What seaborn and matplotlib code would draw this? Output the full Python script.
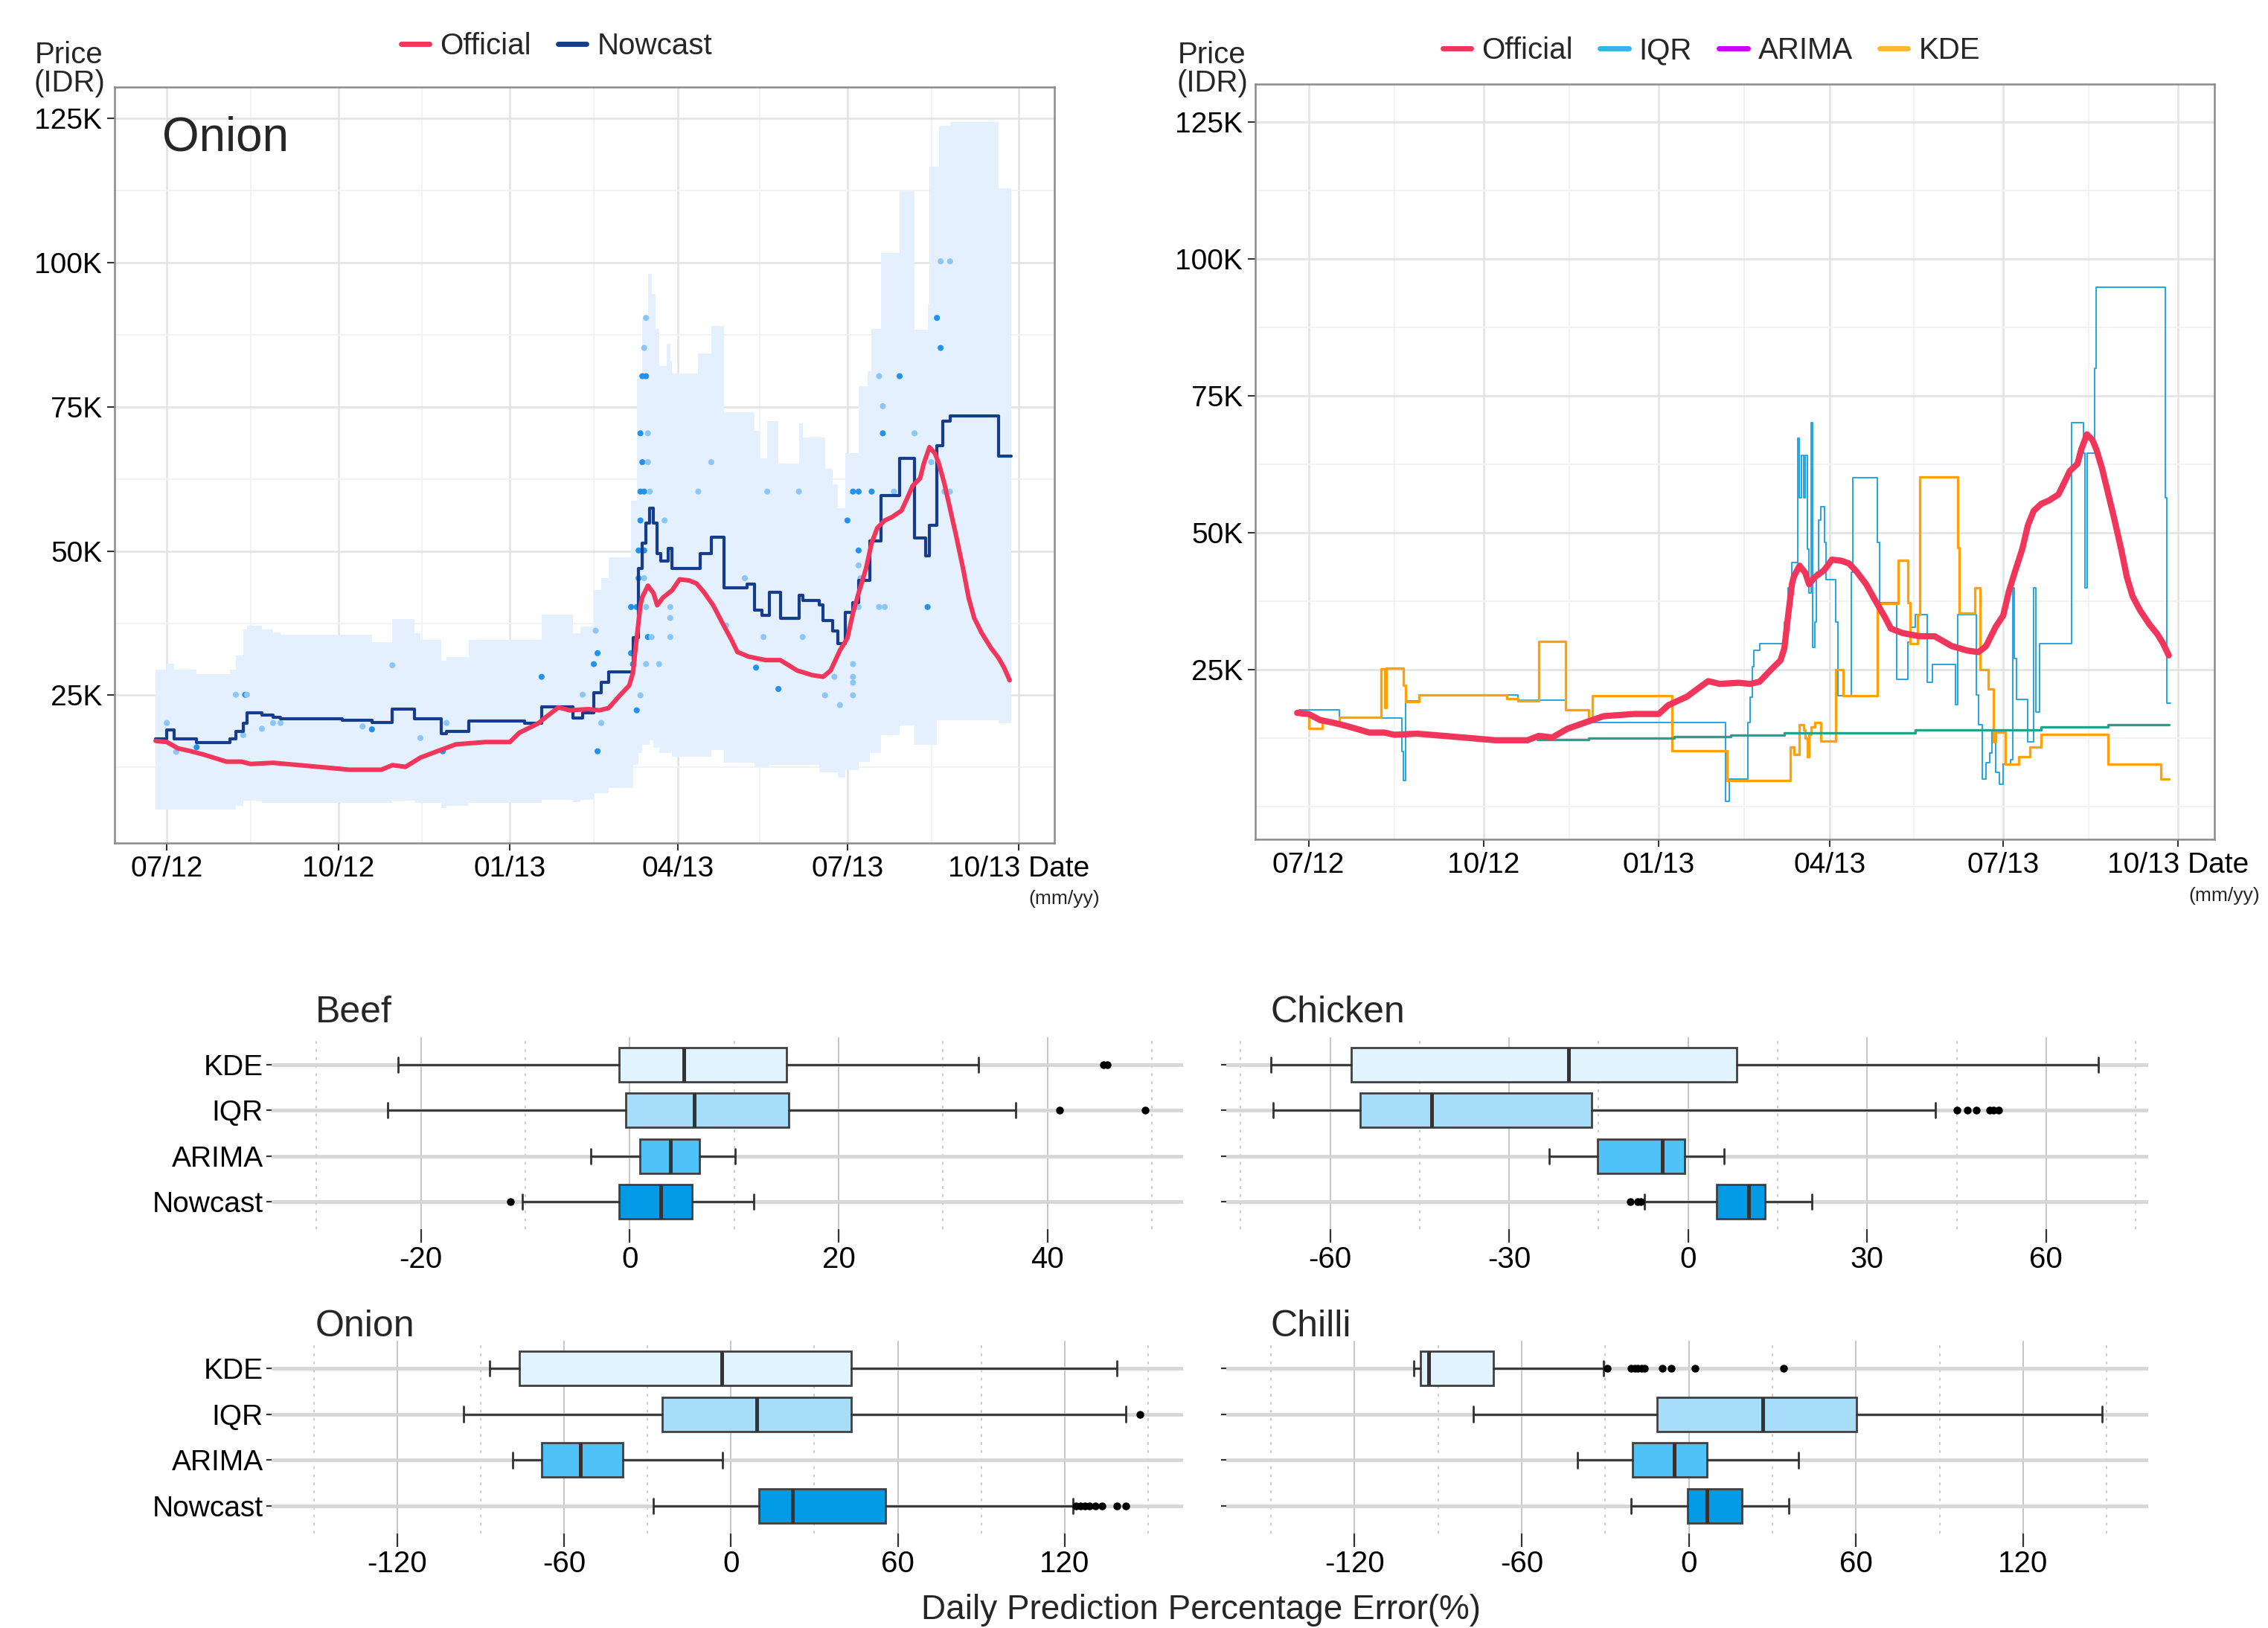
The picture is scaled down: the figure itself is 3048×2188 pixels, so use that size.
import numpy as np
import pandas as pd
import matplotlib
matplotlib.use("Agg")
import matplotlib.pyplot as plt
import matplotlib.dates as mdates
from matplotlib.lines import Line2D
from matplotlib.ticker import FuncFormatter
import seaborn as sns

# ---------------- data: onion prices (thousand IDR) ----------------
off_dates = ['2012-06-25', '2012-07-01', '2012-07-07', '2012-07-14', '2012-07-21', '2012-07-28',
             '2012-08-02', '2012-08-10', '2012-08-15', '2012-08-27', '2012-09-10', '2012-09-27',
             '2012-10-07', '2012-10-24', '2012-10-30', '2012-11-06', '2012-11-14', '2012-11-23',
             '2012-12-03', '2012-12-19', '2013-01-01', '2013-01-06', '2013-01-16', '2013-01-21',
             '2013-01-27', '2013-02-02', '2013-02-12', '2013-02-18', '2013-02-23', '2013-03-01',
             '2013-03-06', '2013-03-08', '2013-03-10', '2013-03-12', '2013-03-13', '2013-03-16',
             '2013-03-19', '2013-03-21', '2013-03-24', '2013-03-29', '2013-04-02', '2013-04-07',
             '2013-04-11', '2013-04-15', '2013-04-20', '2013-04-25', '2013-04-30', '2013-05-03',
             '2013-05-09', '2013-05-18', '2013-05-26', '2013-06-04', '2013-06-12', '2013-06-18',
             '2013-06-22', '2013-06-27', '2013-07-01', '2013-07-04', '2013-07-07', '2013-07-11',
             '2013-07-14', '2013-07-17', '2013-07-21', '2013-07-25', '2013-07-30', '2013-08-02',
             '2013-08-05', '2013-08-09', '2013-08-11', '2013-08-14', '2013-08-17', '2013-08-19',
             '2013-08-22', '2013-08-25', '2013-08-28', '2013-09-01', '2013-09-04', '2013-09-07',
             '2013-09-11', '2013-09-16', '2013-09-20', '2013-09-23', '2013-09-26']
off_vals = [17.1, 16.9, 15.8, 15.3, 14.7, 14.0, 13.5, 13.5, 13.1, 13.3, 12.9, 12.4,
            12.1, 12.1, 12.9, 12.6, 14.2, 15.3, 16.5, 16.9, 16.9, 18.5, 20.1, 21.4,
            22.9, 22.4, 22.6, 22.4, 22.8, 25.0, 26.7, 28.9, 34.9, 40.6, 42.0, 44.0,
            42.7, 40.6, 41.9, 43.2, 45.1, 44.9, 44.4, 42.9, 40.6, 37.5, 34.5, 32.5,
            31.7, 31.1, 31.1, 29.3, 28.5, 28.2, 29.3, 32.8, 34.9, 39.3, 42.7, 47.0,
            51.4, 54.0, 55.3, 55.9, 57.0, 59.1, 61.3, 62.6, 65.2, 68.0, 66.9, 65.2,
            61.7, 57.4, 53.1, 47.0, 41.9, 38.4, 35.8, 33.2, 31.5, 29.8, 27.6]

now_dates = ['2012-06-25', '2012-07-01', '2012-07-05', '2012-07-17', '2012-08-04', '2012-08-07',
             '2012-08-11', '2012-08-13', '2012-08-21', '2012-08-27', '2012-08-31', '2012-10-03',
             '2012-10-19', '2012-10-30', '2012-11-11', '2012-11-25', '2012-11-28', '2012-12-10',
             '2013-01-09', '2013-01-18', '2013-02-04', '2013-02-09', '2013-02-15', '2013-02-19',
             '2013-02-23', '2013-03-08', '2013-03-11', '2013-03-13', '2013-03-15', '2013-03-17',
             '2013-03-19', '2013-03-21', '2013-03-23', '2013-03-27', '2013-03-29', '2013-04-13',
             '2013-04-19', '2013-04-26', '2013-05-08', '2013-05-12', '2013-05-16', '2013-05-20',
             '2013-05-26', '2013-06-05', '2013-06-07', '2013-06-16', '2013-06-18', '2013-06-23',
             '2013-06-26', '2013-06-30', '2013-07-04', '2013-07-07', '2013-07-13', '2013-07-19',
             '2013-07-29', '2013-08-06', '2013-08-12', '2013-08-14', '2013-08-18', '2013-08-21',
             '2013-08-25', '2013-09-20', '2013-09-27']
now_vals = [17.4, 19.0, 17.4, 16.8, 17.4, 18.7, 20.1, 21.9, 21.6, 21.2, 20.9, 20.7,
            20.3, 22.6, 20.9, 18.3, 18.7, 20.5, 20.2, 23.0, 21.0, 21.9, 25.4, 27.2,
            29.1, 35.0, 47.0, 51.4, 54.8, 57.4, 54.8, 49.6, 48.3, 50.5, 47.0, 49.6,
            52.4, 43.6, 44.3, 39.7, 38.8, 42.9, 38.4, 42.3, 41.4, 40.6, 38.0, 36.2,
            34.0, 39.4, 41.0, 44.9, 51.8, 59.6, 66.1, 52.2, 49.2, 54.4, 68.2, 72.5,
            73.4, 66.5, 66.5]

band_dates = ['2012-06-25', '2012-07-01', '2012-07-05', '2012-07-17', '2012-08-04', '2012-08-07',
              '2012-08-11', '2012-08-13', '2012-08-21', '2012-08-27', '2012-08-31', '2012-10-19',
              '2012-10-30', '2012-11-11', '2012-11-14', '2012-11-25', '2012-11-28', '2012-12-10',
              '2013-01-18', '2013-02-04', '2013-02-08', '2013-02-15', '2013-02-19', '2013-02-23',
              '2013-03-07', '2013-03-08', '2013-03-10', '2013-03-11', '2013-03-13', '2013-03-16',
              '2013-03-17', '2013-03-18', '2013-03-19', '2013-03-20', '2013-03-22', '2013-03-26',
              '2013-03-28', '2013-03-29', '2013-04-12', '2013-04-19', '2013-04-26', '2013-05-12',
              '2013-05-15', '2013-05-19', '2013-05-20', '2013-05-25', '2013-06-05', '2013-06-07',
              '2013-06-16', '2013-06-19', '2013-06-23', '2013-06-26', '2013-06-30', '2013-07-07',
              '2013-07-12', '2013-07-13', '2013-07-14', '2013-07-19', '2013-07-29', '2013-08-06',
              '2013-08-13', '2013-08-14', '2013-08-18', '2013-08-19', '2013-08-25', '2013-09-20',
              '2013-09-27']
band_lo = [5.2, 5.2, 5.2, 5.2, 5.2, 5.8, 6.7, 6.7, 6.3, 6.3, 6.3, 6.3,
           6.7, 6.3, 6.3, 5.4, 5.8, 6.3, 6.9, 6.5, 6.9, 8.1, 8.1, 9.0,
           9.0, 12.9, 12.9, 15.0, 16.4, 16.4, 17.2, 17.2, 15.9, 15.9, 15.0, 15.0,
           15.0, 14.4, 14.4, 15.5, 13.3, 12.5, 12.5, 12.5, 12.9, 12.9, 12.9, 12.9,
           11.6, 11.6, 11.6, 10.7, 12.0, 13.5, 13.5, 15.0, 15.0, 18.1, 19.8, 16.4,
           16.4, 16.4, 20.7, 20.7, 20.7, 20.1, 20.1]
band_hi = [29.4, 30.5, 29.4, 28.7, 29.4, 31.9, 36.4, 37.1, 36.4, 35.9, 35.5, 34.2,
           38.2, 35.7, 34.6, 31.0, 31.6, 34.6, 39.0, 35.7, 36.9, 43.2, 45.3, 48.9,
           58.7, 58.7, 79.9, 79.9, 90.3, 98.0, 98.0, 94.6, 94.6, 88.5, 82.0, 85.9,
           83.0, 80.7, 84.2, 89.0, 74.0, 70.8, 66.1, 72.5, 72.5, 65.2, 72.1, 69.7,
           69.7, 64.3, 61.6, 57.4, 66.9, 78.6, 81.2, 81.2, 88.5, 101.7, 112.3, 88.4,
           92.8, 116.6, 116.6, 123.7, 124.4, 112.9, 112.9]

pt_dates = ['2012-07-01', '2012-07-06', '2012-07-17', '2012-08-07', '2012-08-12', '2012-08-13',
            '2012-08-11', '2012-08-21', '2012-08-27', '2012-08-31', '2012-10-14', '2012-10-19',
            '2012-10-30', '2012-11-14', '2012-11-26', '2012-11-28', '2013-01-18', '2013-02-09',
            '2013-02-16', '2013-02-15', '2013-02-17', '2013-02-17', '2013-02-19', '2013-03-07',
            '2013-03-08', '2013-03-07', '2013-03-10', '2013-03-12', '2013-03-10', '2013-03-11',
            '2013-03-11', '2013-03-12', '2013-03-12', '2013-03-13', '2013-03-12', '2013-03-14',
            '2013-03-14', '2013-03-15', '2013-03-13', '2013-03-15', '2013-03-14', '2013-03-15',
            '2013-03-16', '2013-03-16', '2013-03-17', '2013-03-16', '2013-03-18', '2013-03-15',
            '2013-03-14', '2013-03-22', '2013-03-25', '2013-03-28', '2013-03-28', '2013-03-28',
            '2013-04-12', '2013-04-19', '2013-04-27', '2013-05-07', '2013-05-13', '2013-05-17',
            '2013-05-19', '2013-05-25', '2013-06-05', '2013-06-07', '2013-06-19', '2013-06-24',
            '2013-06-27', '2013-07-01', '2013-07-04', '2013-07-04', '2013-07-04', '2013-07-04',
            '2013-07-04', '2013-07-07', '2013-07-07', '2013-07-05', '2013-07-07', '2013-07-07',
            '2013-07-08', '2013-07-14', '2013-07-18', '2013-07-20', '2013-07-20', '2013-07-18',
            '2013-07-21', '2013-07-26', '2013-07-29', '2013-08-06', '2013-08-13', '2013-08-15',
            '2013-08-18', '2013-08-20', '2013-08-20', '2013-08-25', '2013-08-22', '2013-08-25']
pt_vals = [20.2, 15.2, 16.0, 25.1, 25.1, 25.1, 18.1, 19.2, 20.2, 20.2, 19.6, 19.1,
           30.2, 17.6, 15.3, 20.2, 28.2, 25.1, 36.2, 30.4, 32.3, 15.3, 20.2, 32.3,
           30.4, 40.3, 22.4, 25.0, 40.3, 45.3, 50.1, 55.3, 60.3, 65.4, 70.4, 60.3,
           50.1, 40.3, 80.3, 80.3, 85.2, 90.4, 70.4, 65.4, 60.3, 35.1, 35.1, 30.4,
           45.3, 30.4, 55.3, 40.3, 38.4, 35.1, 60.3, 65.4, 37.1, 45.3, 29.8, 35.1,
           60.3, 26.1, 60.3, 35.1, 25.0, 28.2, 23.3, 55.3, 30.4, 28.2, 27.2, 25.0,
           60.3, 60.3, 50.1, 40.3, 40.3, 47.5, 45.3, 60.3, 80.3, 75.1, 70.4, 40.3,
           40.3, 60.3, 80.3, 70.4, 40.3, 65.4, 90.4, 85.2, 100.2, 100.2, 60.3, 60.3]
pt_tone = ['light', 'light', 'dark', 'light', 'dark', 'light', 'light', 'light', 'light', 'light', 'light', 'dark',
           'light', 'light', 'dark', 'light', 'dark', 'light', 'light', 'dark', 'dark', 'dark', 'light', 'dark',
           'dark', 'dark', 'dark', 'light', 'dark', 'dark', 'dark', 'dark', 'dark', 'dark', 'dark', 'dark',
           'dark', 'light', 'dark', 'dark', 'light', 'light', 'light', 'light', 'light', 'dark', 'light', 'light',
           'light', 'light', 'light', 'light', 'light', 'light', 'light', 'light', 'light', 'light', 'dark', 'light',
           'light', 'dark', 'light', 'light', 'light', 'light', 'light', 'dark', 'light', 'light', 'light', 'light',
           'dark', 'dark', 'dark', 'dark', 'light', 'light', 'light', 'dark', 'light', 'light', 'dark', 'light',
           'light', 'light', 'dark', 'light', 'dark', 'light', 'dark', 'dark', 'light', 'light', 'light', 'light']

iqr_dates = ['2012-06-26', '2012-07-17', '2012-08-19', '2012-08-20', '2012-08-21', '2012-08-28',
             '2012-10-19', '2012-11-13', '2012-11-25', '2013-02-05', '2013-02-07', '2013-02-17',
             '2013-02-18', '2013-02-19', '2013-02-20', '2013-02-23', '2013-03-08', '2013-03-10',
             '2013-03-12', '2013-03-15', '2013-03-16', '2013-03-17', '2013-03-18', '2013-03-19',
             '2013-03-20', '2013-03-21', '2013-03-22', '2013-03-23', '2013-03-24', '2013-03-25',
             '2013-03-26', '2013-03-27', '2013-03-29', '2013-03-30', '2013-04-04', '2013-04-05',
             '2013-04-12', '2013-04-13', '2013-04-26', '2013-04-27', '2013-05-06', '2013-05-12',
             '2013-05-13', '2013-05-16', '2013-05-22', '2013-05-25', '2013-06-06', '2013-06-07',
             '2013-06-17', '2013-06-18', '2013-06-20', '2013-06-22', '2013-06-24', '2013-06-25',
             '2013-06-27', '2013-06-29', '2013-07-01', '2013-07-05', '2013-07-06', '2013-07-07',
             '2013-07-08', '2013-07-14', '2013-07-17', '2013-07-18', '2013-07-20', '2013-08-06',
             '2013-08-12', '2013-08-13', '2013-08-14', '2013-08-18', '2013-08-19', '2013-09-24',
             '2013-09-25', '2013-09-27']
iqr_vals = [17.6, 16.2, 10.0, 4.7, 19.3, 20.4, 19.4, 17.6, 15.3, 0.9, 5.0, 15.4,
            20.0, 25.5, 28.6, 29.8, 33.7, 40.0, 44.6, 67.3, 56.4, 64.2, 56.4, 64.2,
            47.0, 39.0, 70.1, 29.1, 33.7, 42.8, 52.3, 54.8, 48.2, 41.4, 33.7, 20.2,
            42.8, 60.1, 48.2, 37.3, 23.2, 30.0, 32.7, 35.0, 22.7, 25.9, 18.6, 35.0,
            20.4, 15.0, 5.0, 8.0, 9.8, 13.8, 6.3, 4.0, 7.7, 8.6, 40.0, 27.0,
            19.5, 11.8, 40.0, 17.3, 29.8, 70.1, 64.6, 40.0, 64.6, 80.1, 94.9, 56.4,
            18.9, 18.9]

kde_dates = ['2012-06-26', '2012-07-01', '2012-07-08', '2012-07-17', '2012-08-08', '2012-08-10',
             '2012-08-11', '2012-08-20', '2012-08-21', '2012-08-28', '2012-10-13', '2012-10-19',
             '2012-10-30', '2012-11-13', '2012-11-25', '2012-11-27', '2013-01-08', '2013-02-06',
             '2013-03-11', '2013-03-13', '2013-03-16', '2013-03-18', '2013-03-19', '2013-03-20',
             '2013-03-21', '2013-03-22', '2013-03-24', '2013-03-27', '2013-04-04', '2013-04-08',
             '2013-04-26', '2013-05-07', '2013-05-12', '2013-05-13', '2013-05-17', '2013-05-18',
             '2013-06-07', '2013-06-08', '2013-06-16', '2013-06-19', '2013-06-23', '2013-06-26',
             '2013-06-27', '2013-07-02', '2013-07-09', '2013-07-15', '2013-07-21', '2013-08-25',
             '2013-09-22', '2013-09-26']
kde_vals = [17.0, 14.2, 15.3, 16.3, 25.2, 18.1, 25.3, 22.1, 19.2, 20.4, 19.7, 19.3,
            30.1, 17.7, 15.9, 20.3, 10.2, 4.7, 10.9, 9.5, 15.0, 14.0, 12.5, 9.1,
            13.2, 14.5, 15.4, 12.0, 25.0, 20.2, 37.1, 45.0, 37.3, 29.8, 35.0, 60.2,
            47.3, 35.3, 40.0, 25.0, 21.4, 11.8, 13.6, 7.7, 9.1, 10.9, 13.2, 7.7,
            5.0, 5.0]

arima_dates = ['2012-10-29', '2012-11-25', '2013-01-09', '2013-02-08', '2013-03-08', '2013-05-16',
               '2013-07-21', '2013-08-25', '2013-09-26']
arima_vals = [12.2, 12.5, 12.8, 13.1, 13.4, 14.0, 14.5, 15.0, 15.0]

# ---------------- data: daily prediction percentage error (%) ----------------
methods = ['KDE', 'IQR', 'ARIMA', 'Nowcast']

beef_lo = [-22.2, -23.2, -3.7, -10.3]
beef_q1 = [-1.0, -0.4, 1.0, -1.0]
beef_med = [5.2, 6.2, 3.9, 3.0]
beef_q3 = [15.0, 15.2, 6.7, 6.0]
beef_hi = [33.4, 37.0, 10.1, 11.9]
beef_out = [[45.4, 45.7], [41.2, 49.4], [], [-11.4]]

chicken_lo = [-69.9, -69.6, -23.3, -7.3]
chicken_q1 = [-56.5, -54.9, -15.2, 4.8]
chicken_med = [-20.0, -43.0, -4.3, 10.1]
chicken_q3 = [8.2, -16.2, -0.6, 12.9]
chicken_hi = [68.7, 41.4, 6.0, 20.7]
chicken_out = [[], [45.0, 46.8, 48.3, 50.5, 51.2, 52.0], [], [-9.7, -8.5, -7.9]]

onion_lo = [-86.8, -96.1, -78.6, -27.9]
onion_q1 = [-76.1, -24.7, -68.0, 10.1]
onion_med = [-3.2, 9.4, -54.1, 22.2]
onion_q3 = [43.3, 43.3, -38.8, 55.6]
onion_hi = [138.9, 142.1, -3.0, 123.1]
onion_out = [[], [147.1], [], [124.1, 125.6, 127.3, 129.0, 131.0, 133.5, 138.9, 142.1]]

chilli_lo = [-98.8, -77.4, -39.9, -20.7]
chilli_q1 = [-96.4, -11.3, -20.2, -0.5]
chilli_med = [-93.4, 26.6, -5.2, 6.4]
chilli_q3 = [-70.0, 60.1, 6.4, 19.2]
chilli_hi = [-30.6, 148.3, 39.4, 36.0]
chilli_out = [[-29.3, -20.7, -19.5, -18.3, -17.0, -15.8, -9.6, -6.4, 2.2, 34.0], [], [], []]

# ---------------- style ----------------
C_OFF = '#F0365A'
C_NOW = '#163C8C'
C_BAND = '#E4F0FD'
C_IQR = '#22A5E3'
C_KDE = '#FFA10A'
C_ARIMA = '#28A08C'
C_ARIMA_KEY = '#CC00FF'
BOX_FILL = ['#E1F4FD', '#A7DDF9', '#4FC3F7', '#039BE5']

sns.set_theme(style="white")
plt.rcParams['font.family'] = ['Liberation Sans', 'DejaVu Sans']

W, H = 3048, 2188
fig = plt.figure(figsize=(W / 100, H / 100), dpi=100)


def axes_px(left, top, right, bottom):
    return fig.add_axes([left / W, 1 - bottom / H, (right - left) / W, (bottom - top) / H])


def fig_text(x, y, s, **kw):
    fig.text(x / W, 1 - y / H, s, **kw)


def date_label(x, pos=None):
    s = mdates.num2date(x).strftime('%m/%y')
    # the axis title shares the last tick label, as in the source figure
    return s + ' Date' if s == '10/13' else s


def style_price_axes(ax, ylim, minor_y):
    ax.set_xlim(pd.Timestamp('2012-06-03'), pd.Timestamp('2013-10-20'))
    ax.set_ylim(*ylim)
    ax.xaxis.set_major_locator(mdates.MonthLocator(bymonth=[1, 4, 7, 10]))
    ax.xaxis.set_major_formatter(FuncFormatter(date_label))
    ax.xaxis.set_minor_locator(mdates.MonthLocator(bymonth=[2, 5, 8, 11], bymonthday=15))
    ax.set_yticks([25, 50, 75, 100, 125])
    ax.set_yticklabels(['25K', '50K', '75K', '100K', '125K'])
    ax.set_yticks(minor_y, minor=True)
    ax.grid(which='major', color='#E2E2E2', lw=1.8)
    ax.grid(which='minor', color='#F2F2F2', lw=1.4)
    ax.set_axisbelow(True)
    ax.tick_params(which='major', length=7, width=1.5, color='#333333', labelsize=28,
                   labelcolor='black', pad=5, bottom=True, left=True)
    ax.tick_params(which='minor', length=0)
    for s in ax.spines.values():
        s.set_visible(True)
        s.set_color('#8A8A8A')
        s.set_linewidth(1.8)
    ax.set_xlabel('')
    ax.set_ylabel('')


# ---------------- top left: onion nowcast ----------------
ax1 = axes_px(154, 117, 1417, 1133)
bd = pd.to_datetime(band_dates)
ax1.fill_between(bd, band_lo, band_hi, step='post', color=C_BAND, lw=0, zorder=1)
sns.scatterplot(x=pd.to_datetime(pt_dates), y=pt_vals, hue=pt_tone,
                palette={'dark': '#2292EE', 'light': '#8CC6F4'}, s=34, linewidth=0,
                legend=False, ax=ax1, zorder=2)
sns.lineplot(x=pd.to_datetime(now_dates), y=now_vals, estimator=None, sort=False,
             drawstyle='steps-post', color=C_NOW, lw=3.0, legend=False, ax=ax1, zorder=3)
sns.lineplot(x=pd.to_datetime(off_dates), y=off_vals, estimator=None, sort=False,
             color=C_OFF, lw=4.4, legend=False, ax=ax1, zorder=4)
style_price_axes(ax1, (-0.6, 130.4), [12.5, 37.5, 62.5, 87.5, 112.5])
ax1.text(0.051, 0.933, 'Onion', transform=ax1.transAxes, ha='left', va='center', fontsize=46)

# ---------------- top right: baselines ----------------
ax2 = axes_px(1687, 113, 2976, 1128)
sns.lineplot(x=pd.to_datetime(iqr_dates), y=iqr_vals, estimator=None, sort=False,
             drawstyle='steps-post', color=C_IQR, lw=1.4, legend=False, ax=ax2, zorder=2)
sns.lineplot(x=pd.to_datetime(kde_dates), y=kde_vals, estimator=None, sort=False,
             drawstyle='steps-post', color=C_KDE, lw=2.4, legend=False, ax=ax2, zorder=3)
sns.lineplot(x=pd.to_datetime(arima_dates), y=arima_vals, estimator=None, sort=False,
             drawstyle='steps-post', color=C_ARIMA, lw=2.4, legend=False, ax=ax2, zorder=3)
sns.lineplot(x=pd.to_datetime(off_dates), y=off_vals, estimator=None, sort=False,
             color=C_OFF, lw=6.0, legend=False, ax=ax2, zorder=4)
style_price_axes(ax2, (-6.0, 132.0), [0, 12.5, 37.5, 62.5, 87.5, 112.5])

# axis titles and legends of the price panels
for cx in (93, 1629):
    fig_text(cx, 93, 'Price\n(IDR)', ha='center', va='center', fontsize=29, linespacing=1.0)
fig_text(1382, 1208, '(mm/yy)', ha='left', va='center', fontsize=19)
fig_text(2941, 1204, '(mm/yy)', ha='left', va='center', fontsize=19)

leg_kw = dict(loc='center', frameon=False, fontsize=29, handlelength=0.95,
              handletextpad=0.35, columnspacing=0.9, borderpad=0)
fig.legend([Line2D([], [], color=C_OFF, lw=5), Line2D([], [], color=C_NOW, lw=5)],
           ['Official', 'Nowcast'], ncol=2, bbox_to_anchor=(748 / W, 1 - 62 / H), **leg_kw)
fig.legend([Line2D([], [], color=C_OFF, lw=5), Line2D([], [], color='#3BB4E5', lw=5),
            Line2D([], [], color=C_ARIMA_KEY, lw=5), Line2D([], [], color='#FBBA2E', lw=5)],
           ['Official', 'IQR', 'ARIMA', 'KDE'], ncol=4,
           bbox_to_anchor=(2300 / W, 1 - 68 / H), **leg_kw)


# ---------------- bottom: error boxplots ----------------
def box_panel(box, lo, q1, med, q3, hi, out, xlim, major, minor, title, title_xy, labels):
    ax = axes_px(*box)
    stats = []
    for i, m in enumerate(methods):
        stats.append({'label': m, 'whislo': lo[i], 'q1': q1[i], 'med': med[i],
                      'q3': q3[i], 'whishi': hi[i], 'fliers': np.array(out[i])})
    res = ax.bxp(stats, positions=[4, 3, 2, 1], orientation='horizontal', widths=0.75,
                 capwidths=0.33, patch_artist=True, showfliers=True,
                 boxprops=dict(edgecolor='#404040', linewidth=2.0),
                 medianprops=dict(color='#333333', linewidth=3.6),
                 whiskerprops=dict(color='#333333', linewidth=2.0),
                 capprops=dict(color='#333333', linewidth=2.0),
                 flierprops=dict(marker='o', markerfacecolor='black', markeredgecolor='black',
                                 markersize=6.5, linestyle='none'))
    for patch, c in zip(res['boxes'], BOX_FILL):
        patch.set_facecolor(c)
    ax.set_xlim(*xlim)
    ax.set_ylim(0.4, 4.6)
    ax.set_xticks(major)
    ax.set_xticklabels([f'{v:g}' for v in major])
    ax.set_xticks(minor, minor=True)
    ax.set_yticks([4, 3, 2, 1])
    ax.set_yticklabels(methods if labels else [''] * 4)
    ax.grid(axis='x', which='major', color='#C6C6C6', lw=1.4)
    ax.grid(axis='x', which='minor', color='#C6C6C6', lw=1.3, linestyle=(0, (2, 4)))
    ax.grid(axis='y', which='major', color='#D6D6D6', lw=3.4)
    ax.set_axisbelow(True)
    for s in ax.spines.values():
        s.set_visible(False)
    ax.tick_params(axis='x', which='major', length=13, width=1.6, color='#333333',
                   labelsize=29, labelcolor='black', pad=3, bottom=True)
    ax.tick_params(axis='x', which='minor', length=0)
    ax.tick_params(axis='y', length=5, width=1.6, color='#333333', labelsize=28,
                   labelcolor='black', pad=3, left=True)
    fig_text(title_xy[0], title_xy[1], title, ha='left', va='center', fontsize=36)
    return ax


box_panel((365, 1394, 1590, 1652), beef_lo, beef_q1, beef_med, beef_q3, beef_hi, beef_out,
          (-34.3, 53.0), [-20, 0, 20, 40], [-30, -10, 10, 30, 50], 'Beef', (424, 1361), True)
box_panel((1648, 1394, 2887, 1652), chicken_lo, chicken_q1, chicken_med, chicken_q3, chicken_hi,
          chicken_out, (-77.4, 77.1), [-60, -30, 0, 30, 60], [-75, -45, -15, 15, 45, 75],
          'Chicken', (1707, 1361), False)
box_panel((365, 1802, 1590, 2061), onion_lo, onion_q1, onion_med, onion_q3, onion_hi, onion_out,
          (-165.2, 162.6), [-120, -60, 0, 60, 120], [-150, -90, -30, 30, 90, 150],
          'Onion', (424, 1783), True)
box_panel((1648, 1802, 2887, 2061), chilli_lo, chilli_q1, chilli_med, chilli_q3, chilli_hi,
          chilli_out, (-166.0, 164.9), [-120, -60, 0, 60, 120], [-150, -90, -30, 30, 90, 150],
          'Chilli', (1707, 1783), False)

fig_text(1614, 2164, 'Daily Prediction Percentage Error(%)', ha='center', va='center', fontsize=33)

fig.savefig('out.png', dpi=100, facecolor='white')
